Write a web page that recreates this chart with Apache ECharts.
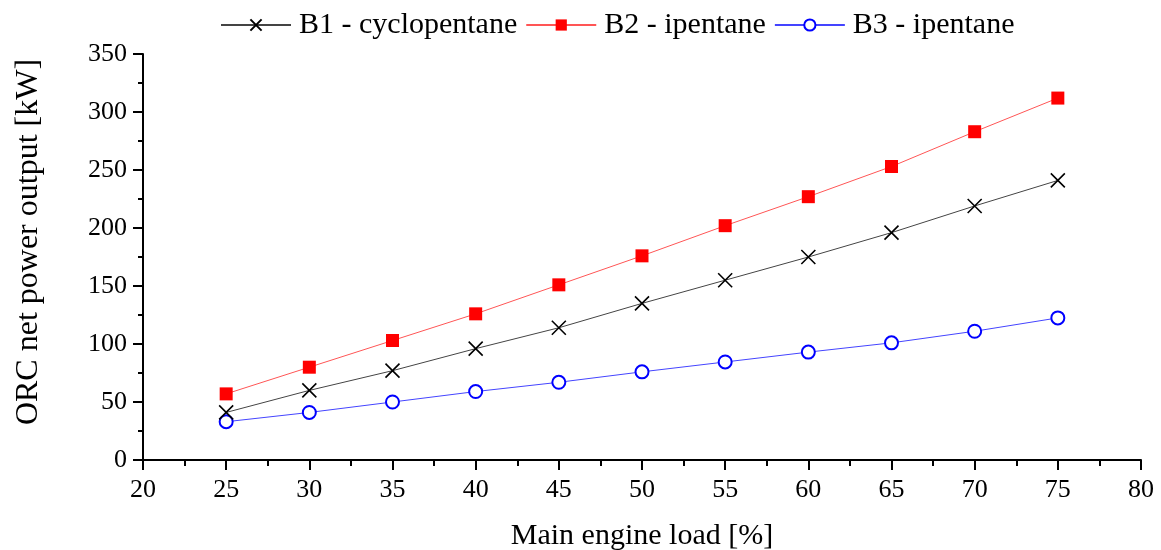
<!DOCTYPE html>
<html>
<head>
    <meta charset="utf-8">
    <title>ORC net power output</title>
    <script src="https://cdn.jsdelivr.net/npm/echarts@6/dist/echarts.min.js"></script>
    <style>
        html, body { margin: 0; padding: 0; background: #fff; }
        #chart { width: 1161px; height: 550px; }
    </style>
</head>
<body>
<div id="chart"></div>
<script>
    // main engine load [%]
    const loads = [25, 30, 35, 40, 45, 50, 55, 60, 65, 70, 75];
    // ORC net power output [kW]
    const b1Cyclopentane = [41, 60, 77, 96, 114, 135, 155, 175, 196, 219, 241];
    const b2Ipentane = [57, 80, 103, 126, 151, 176, 202, 227, 253, 283, 312];
    const b3Ipentane = [33, 41, 50, 59, 67, 76, 84.5, 93, 101, 111, 122.5];
    const seriesNames = ['B1 - cyclopentane', 'B2 - ipentane', 'B3 - ipentane'];

    const font = 'Liberation Serif, Times New Roman, serif';
    const crossPath = 'path://M0,0L10,10M10,0L0,10';

    function pairs(vals) {
        return loads.map((x, i) => [x, vals[i]]);
    }

    const chart = echarts.init(document.getElementById('chart'));
    chart.setOption({
        animation: false,
        textStyle: { fontFamily: font, color: '#000' },
        legend: {
            top: 5,
            left: 215,
            itemWidth: 70,
            itemHeight: 14,
            itemGap: 8,
            textStyle: { fontFamily: font, fontSize: 30, color: '#000', padding: [0, 0, 0, 3] },
            data: seriesNames
        },
        grid: { left: 143, right: 20, top: 54, bottom: 90, outerBoundsMode: 'none' },
        xAxis: {
            type: 'value',
            min: 20, max: 80, interval: 5,
            name: 'Main engine load [%]',
            nameLocation: 'middle',
            nameGap: 61,
            nameTextStyle: { fontFamily: font, fontSize: 30, color: '#000' },
            axisLine: { onZero: false, lineStyle: { color: '#000', width: 2 } },
            axisTick: { inside: false, length: 10, lineStyle: { color: '#000', width: 2 } },
            minorTick: { show: true, splitNumber: 2, length: 6, lineStyle: { color: '#000', width: 2 } },
            axisLabel: { fontFamily: font, fontSize: 26, color: '#000', margin: 17 },
            splitLine: { show: false }
        },
        yAxis: {
            type: 'value',
            min: 0, max: 350, interval: 50,
            name: 'ORC net power output [kW]',
            nameLocation: 'middle',
            nameGap: 98,
            nameTextStyle: { fontFamily: font, fontSize: 32, color: '#000', padding: [0, 0, 0, 30] },
            axisLine: { show: true, onZero: false, lineStyle: { color: '#000', width: 2 } },
            axisTick: { show: true, inside: false, length: 10, lineStyle: { color: '#000', width: 2 } },
            minorTick: { show: true, splitNumber: 2, length: 5, lineStyle: { color: '#000', width: 2 } },
            axisLabel: { fontFamily: font, fontSize: 26, color: '#000', margin: 16 },
            splitLine: { show: false }
        },
        series: [
            {
                name: seriesNames[0],
                type: 'line',
                data: pairs(b1Cyclopentane),
                symbol: crossPath,
                symbolSize: 14,
                lineStyle: { color: '#444', width: 1 },
                itemStyle: { color: '#000', borderColor: '#000', borderWidth: 1.6 },
                z: 3
            },
            {
                name: seriesNames[1],
                type: 'line',
                data: pairs(b2Ipentane),
                symbol: 'rect',
                symbolSize: 13,
                lineStyle: { color: '#ff5555', width: 1 },
                itemStyle: { color: '#ff0000', borderColor: '#ff0000', borderWidth: 0 },
                z: 2
            },
            {
                name: seriesNames[2],
                type: 'line',
                data: pairs(b3Ipentane),
                symbol: 'emptyCircle',
                symbolSize: 13,
                lineStyle: { color: '#4444ff', width: 1 },
                itemStyle: { color: '#0000ff', borderColor: '#0000ff', borderWidth: 1.5 },
                z: 1
            }
        ]
    });
</script>
</body>
</html>
